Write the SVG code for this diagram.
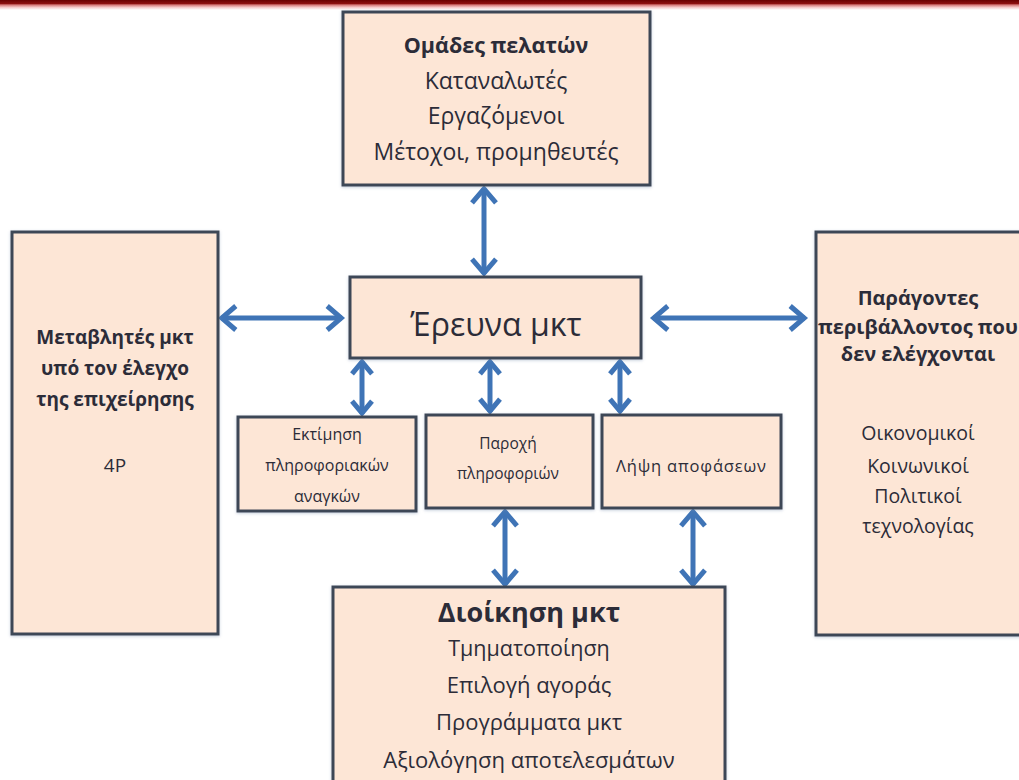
<svg xmlns="http://www.w3.org/2000/svg" width="1019" height="780" viewBox="0 0 1019 780">
<defs>
<linearGradient id="band" x1="0" y1="0" x2="0" y2="1">
<stop offset="0" stop-color="#6a0000"/>
<stop offset="0.35" stop-color="#8c0f0f"/>
<stop offset="0.5" stop-color="#d77a7a"/>
<stop offset="0.75" stop-color="#f6cccc"/>
<stop offset="1" stop-color="#ffffff"/>
</linearGradient>
<filter id="sh" x="-10%" y="-10%" width="120%" height="120%">
<feDropShadow dx="0" dy="1" stdDeviation="1.5" flood-color="#7f93b0" flood-opacity="0.45"/>
</filter>
<marker id="ah" viewBox="-18 -15 24 30" markerWidth="24" markerHeight="30" refX="0" refY="0" orient="auto-start-reverse" markerUnits="userSpaceOnUse">
<path d="M-14.8,-12 L-0.8,0 L-14.8,12" fill="none" stroke="#3f74b6" stroke-width="5"/>
</marker>
<marker id="ahs" viewBox="-18 -15 24 30" markerWidth="24" markerHeight="30" refX="0" refY="0" orient="auto-start-reverse" markerUnits="userSpaceOnUse">
<path d="M-12.8,-10 L-0.8,0 L-12.8,10" fill="none" stroke="#3f74b6" stroke-width="5"/>
</marker>
</defs>
<style>
.box{fill:#fde6d6;stroke:#3e4656;stroke-width:3;filter:url(#sh)}
text{font-family:"Open Sans","Noto Sans","DejaVu Sans",sans-serif;fill:#2c2c38;text-anchor:middle}
.b{font-weight:bold}
.arr{stroke:#3f74b6;stroke-width:5;fill:none;marker-start:url(#ah);marker-end:url(#ah)}
.arrs{stroke:#3f74b6;stroke-width:5;fill:none;marker-start:url(#ahs);marker-end:url(#ahs)}
</style>
<rect x="0" y="0" width="1019" height="780" fill="#ffffff"/>
<rect x="0" y="0" width="1019" height="10" fill="url(#band)"/>

<g id="connectors">
<line class="arr" x1="484" y1="188" x2="484" y2="274"/>
<line class="arr" x1="221" y1="318" x2="342" y2="318"/>
<line class="arr" x1="653" y1="318" x2="805" y2="318"/>
<line class="arrs" x1="362" y1="361" x2="362" y2="414"/>
<line class="arrs" x1="490" y1="361" x2="490" y2="412"/>
<line class="arrs" x1="620" y1="361" x2="620" y2="412"/>
<line class="arr" x1="505" y1="511" x2="505" y2="585"/>
<line class="arr" x1="693" y1="511" x2="693" y2="585"/>
</g>

<g id="customers">
<rect class="box" x="343" y="12" width="307" height="173"/>
<text class="b" x="496" y="53" font-size="21.5">Ομάδες πελατών</text>
<text x="496" y="89" font-size="23">Καταναλωτές</text>
<text x="496" y="124" font-size="23">Εργαζόμενοι</text>
<text x="496" y="160" font-size="23">Μέτοχοι, προμηθευτές</text>
</g>

<g id="research">
<rect class="box" x="350" y="277" width="291" height="81"/>
<text x="496" y="336" font-size="32">Έρευνα μκτ</text>
</g>

<g id="controllable">
<rect class="box" x="12" y="232" width="206" height="402"/>
<text class="b" x="115" y="344" font-size="19">Μεταβλητές μκτ</text>
<text class="b" x="115" y="375" font-size="19">υπό τον έλεγχο</text>
<text class="b" x="115" y="406" font-size="19">της επιχείρησης</text>
<text x="115" y="472" font-size="19">4P</text>
</g>

<g id="environment">
<rect class="box" x="816" y="232" width="215" height="403"/>
<text class="b" x="918" y="305" font-size="20">Παράγοντες</text>
<text class="b" x="918" y="334" font-size="20">περιβάλλοντος που</text>
<text class="b" x="918" y="361" font-size="20">δεν ελέγχονται</text>
<text x="918" y="440" font-size="19.5">Οικονομικοί</text>
<text x="918" y="473" font-size="19.5">Κοινωνικοί</text>
<text x="918" y="503" font-size="19.5">Πολιτικοί</text>
<text x="918" y="533" font-size="19.5">τεχνολογίας</text>
</g>

<g id="needs">
<rect class="box" x="238" y="417" width="178" height="94"/>
<text x="327" y="440" font-size="16">Εκτίμηση</text>
<text x="327" y="471" font-size="16">πληροφοριακών</text>
<text x="327" y="502" font-size="16">αναγκών</text>
</g>

<g id="info">
<rect class="box" x="426" y="415" width="167" height="93"/>
<text x="508" y="449" font-size="15.5">Παροχή</text>
<text x="508" y="479" font-size="15.5">πληροφοριών</text>
</g>

<g id="decisions">
<rect class="box" x="602" y="415" width="179" height="93"/>
<text x="691" y="472" font-size="16.5" textLength="150">Λήψη αποφάσεων</text>
</g>

<g id="management">
<rect class="box" x="333" y="587" width="392" height="210"/>
<text class="b" x="529" y="622" font-size="27">Διοίκηση μκτ</text>
<text x="529" y="656" font-size="21.5">Τμηματοποίηση</text>
<text x="529" y="693" font-size="22">Επιλογή αγοράς</text>
<text x="529" y="730" font-size="22">Προγράμματα μκτ</text>
<text x="529" y="768" font-size="22">Αξιολόγηση αποτελεσμάτων</text>
</g>
</svg>
